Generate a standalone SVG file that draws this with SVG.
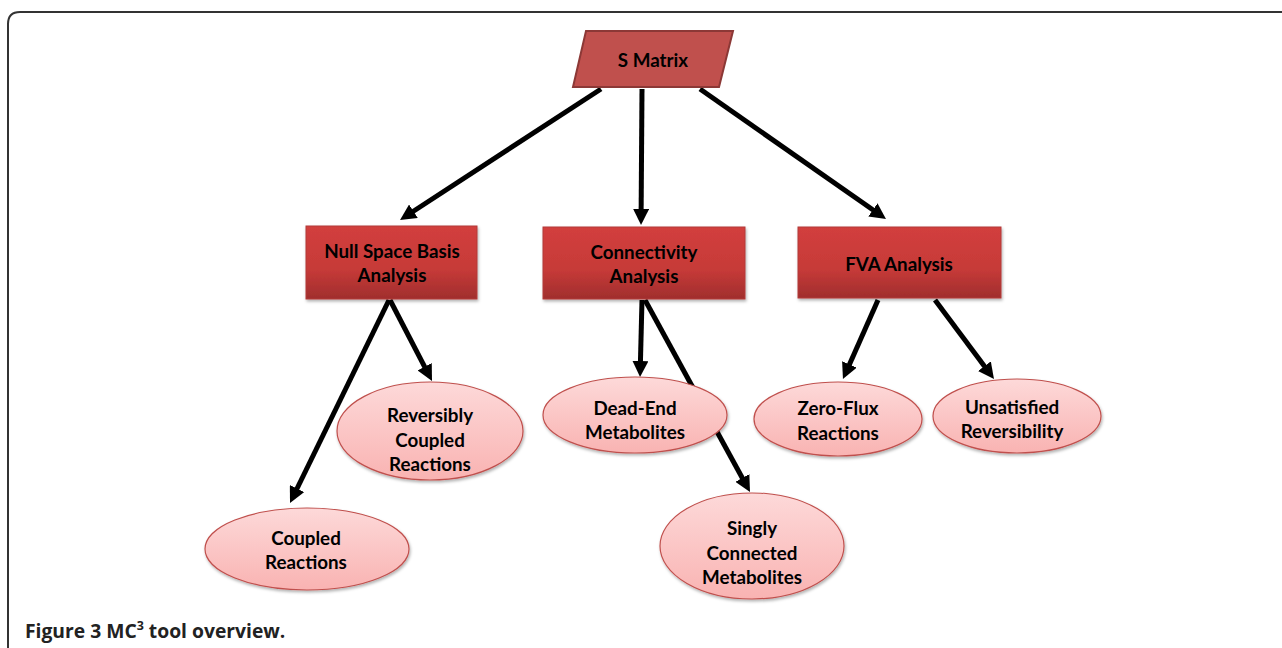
<svg xmlns="http://www.w3.org/2000/svg" width="1282" height="648" viewBox="0 0 1282 648">
<style>
.t{font-family:Lato,"Open Sans","Liberation Sans",sans-serif;font-weight:700;font-size:18.8px;fill:#000;text-anchor:middle}
.box{fill:url(#boxg);stroke:#b23a38;stroke-width:1}
.ell{fill:url(#ellg);stroke:#c0504d;stroke-width:1.2}
.con{stroke:#000;stroke-width:5;fill:none;marker-end:url(#ah)}
.cap{font-family:"Open Sans","Liberation Sans",sans-serif;font-weight:700;font-size:19.3px;fill:#222}
</style>
<defs>
<linearGradient id="boxg" x1="0" y1="0" x2="0" y2="1">
<stop offset="0" stop-color="#d23f3d"/>
<stop offset="0.6" stop-color="#c63a38"/>
<stop offset="1" stop-color="#a02e2d"/>
</linearGradient>
<linearGradient id="ellg" x1="0" y1="0" x2="0" y2="1">
<stop offset="0" stop-color="#fdd9d9"/>
<stop offset="1" stop-color="#f9b3b2"/>
</linearGradient>
<filter id="sh" x="-10%" y="-10%" width="130%" height="140%">
<feDropShadow dx="1" dy="2" stdDeviation="1.5" flood-color="#000" flood-opacity="0.3"/>
</filter>
<marker id="ah" viewBox="0 0 16 16" refX="6" refY="8" markerWidth="16" markerHeight="16" markerUnits="userSpaceOnUse" orient="auto">
<path d="M0,0 L16,8 L0,16 z" fill="#000"/>
</marker>
</defs>
<path d="M8,648 V24 Q8,12 20,12 H1282" fill="none" stroke="#333" stroke-width="2"/>
<g id="connectors">
<line class="con" x1="601" y1="89" x2="408.4" y2="214.5"/>
<line class="con" x1="642" y1="89" x2="641.1" y2="215"/>
<line class="con" x1="700" y1="89" x2="877.8" y2="213.3"/>
<line class="con" x1="389" y1="300" x2="294.4" y2="494"/>
<line class="con" x1="390" y1="300" x2="427.4" y2="372.1"/>
<line class="con" x1="642" y1="300" x2="640.3" y2="367"/>
<line class="con" x1="645" y1="300" x2="745.2" y2="483.2"/>
<line class="con" x1="878" y1="300" x2="847" y2="369.9"/>
<line class="con" x1="935" y1="300" x2="988" y2="371"/>
</g>
<g id="smatrix">
<polygon points="586,31 733,31 719,87 573,87" fill="#c0504d" stroke="#8c3836" stroke-width="2"/>
<text class="t" x="653" y="67">S Matrix</text>
</g>
<g id="nullspace">
<rect class="box" x="306" y="226" width="171" height="73" filter="url(#sh)"/>
<text class="t" x="392" y="258">Null Space Basis</text>
<text class="t" x="392" y="282">Analysis</text>
</g>
<g id="connectivity">
<rect class="box" x="543" y="227" width="202" height="72" filter="url(#sh)"/>
<text class="t" x="644" y="259">Connectivity</text>
<text class="t" x="644" y="283">Analysis</text>
</g>
<g id="fva">
<rect class="box" x="798" y="227" width="203" height="71" filter="url(#sh)"/>
<text class="t" x="899" y="271">FVA Analysis</text>
</g>
<g id="reversibly">
<ellipse class="ell" cx="430" cy="431" rx="93" ry="49" filter="url(#sh)"/>
<text class="t" x="430" y="422">Reversibly</text>
<text class="t" x="430" y="447">Coupled</text>
<text class="t" x="430" y="471">Reactions</text>
</g>
<g id="coupled">
<ellipse class="ell" cx="307" cy="549" rx="102" ry="41" filter="url(#sh)"/>
<text class="t" x="306" y="545">Coupled</text>
<text class="t" x="306" y="569">Reactions</text>
</g>
<g id="deadend">
<ellipse class="ell" cx="635" cy="415" rx="92" ry="38" filter="url(#sh)"/>
<text class="t" x="635" y="415">Dead-End</text>
<text class="t" x="635" y="439">Metabolites</text>
</g>
<g id="singly">
<ellipse class="ell" cx="752" cy="546" rx="92" ry="53" filter="url(#sh)"/>
<text class="t" x="752" y="535">Singly</text>
<text class="t" x="752" y="560">Connected</text>
<text class="t" x="752" y="584">Metabolites</text>
</g>
<g id="zeroflux">
<ellipse class="ell" cx="838" cy="419" rx="84" ry="37" filter="url(#sh)"/>
<text class="t" x="838" y="415">Zero-Flux</text>
<text class="t" x="838" y="440">Reactions</text>
</g>
<g id="unsatisfied">
<ellipse class="ell" cx="1017" cy="416" rx="84" ry="37" filter="url(#sh)"/>
<text class="t" x="1012" y="414">Unsatisfied</text>
<text class="t" x="1012" y="438">Reversibility</text>
</g>
<text class="cap" x="25" y="638">Figure 3 MC<tspan font-size="12.5" dy="-8">3</tspan><tspan dy="8"> tool overview.</tspan></text>
</svg>
